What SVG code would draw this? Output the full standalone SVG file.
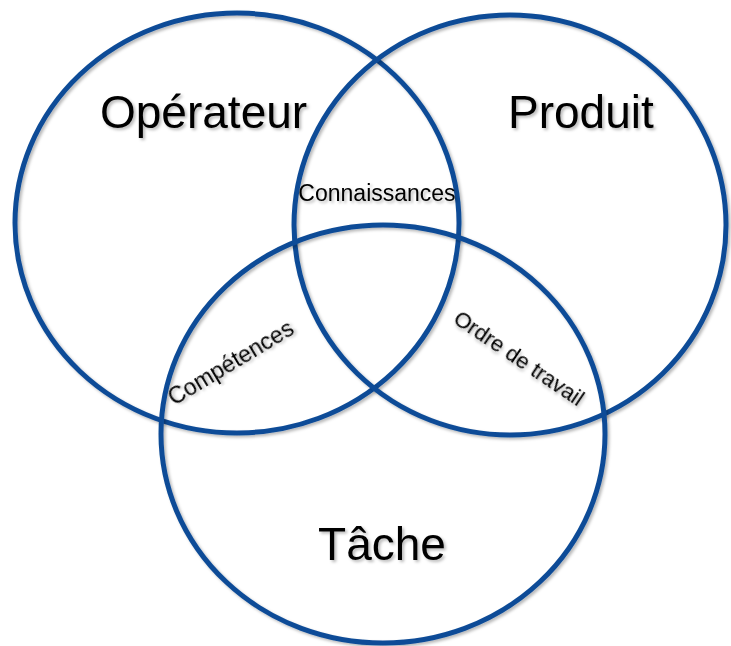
<svg xmlns="http://www.w3.org/2000/svg" width="731" height="646" viewBox="0 0 731 646">
  <defs>
    <filter id="sh" x="-10%" y="-10%" width="120%" height="120%">
      <feDropShadow dx="2" dy="2" stdDeviation="1.5" flood-color="#000" flood-opacity="0.28"/>
    </filter>
    <style>
      .ring { fill: none; stroke: #0f4c97; stroke-width: 5; filter: url(#sh); }
      .big { font-family: "Liberation Sans", Arial, sans-serif; font-size: 46px; fill: #000; filter: url(#sh); }
      .small { font-family: "Liberation Sans", Arial, sans-serif; fill: #000; filter: url(#sh); }
    </style>
  </defs>
  <rect width="731" height="646" fill="#fff"/>
  <g id="connectors"></g>
  <g id="operateur">
    <ellipse class="ring" cx="237" cy="223" rx="222" ry="210"/>
    <text class="big" x="100" y="128">Opérateur</text>
  </g>
  <g id="produit">
    <ellipse class="ring" cx="510" cy="225" rx="216" ry="210"/>
    <text class="big" x="508" y="128">Produit</text>
  </g>
  <g id="tache">
    <ellipse class="ring" cx="383" cy="434" rx="222" ry="209"/>
    <text class="big" x="382" y="560" text-anchor="middle">Tâche</text>
  </g>
  <g id="connaissances">
    <text class="small" x="377" y="201" font-size="23" text-anchor="middle">Connaissances</text>
  </g>
  <g id="competences">
    <text class="small" font-size="23" transform="translate(174 406) rotate(-31)">Compétences</text>
  </g>
  <g id="ordre">
    <text class="small" font-size="22" transform="translate(452 322) rotate(34)">Ordre de travail</text>
  </g>
</svg>
